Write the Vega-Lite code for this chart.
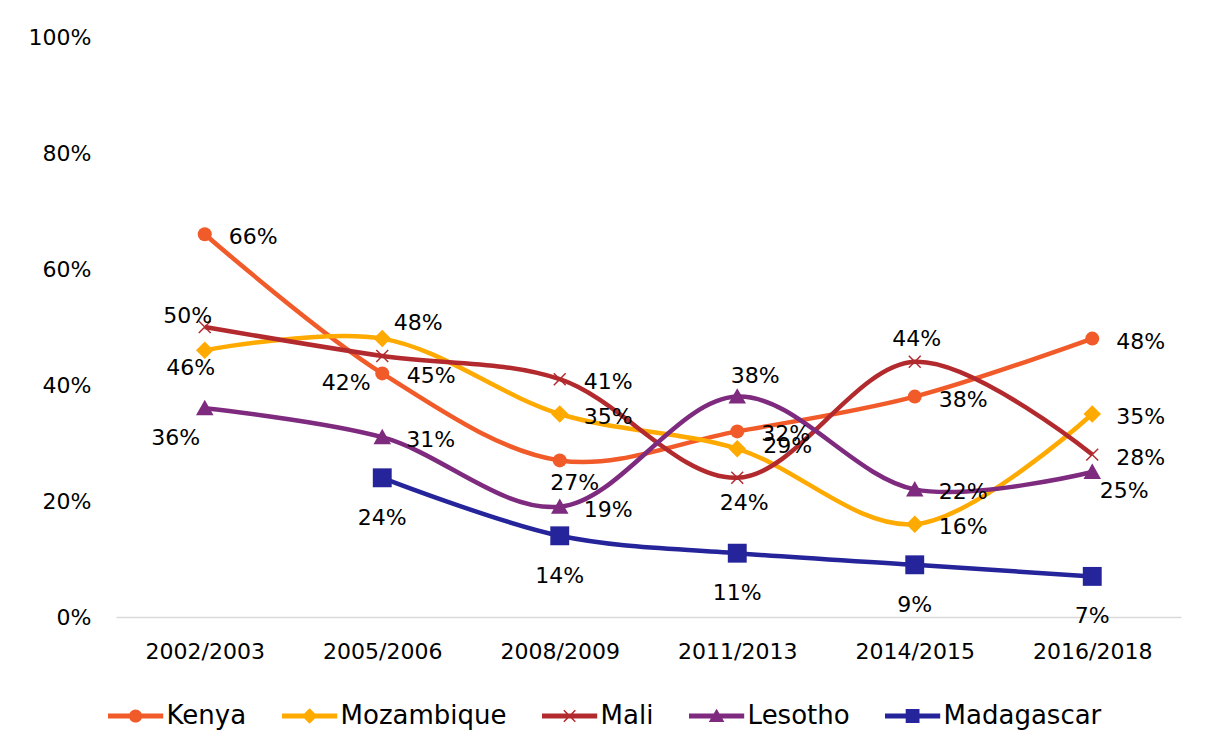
{
  "$schema": "https://vega.github.io/schema/vega-lite/v6.json",
  "width": 1065,
  "height": 580,
  "autosize": "none",
  "padding": {"left": 116, "top": 37, "right": 25, "bottom": 132},
  "background": "white",
  "config": {"view": {"stroke": null}, "font": "DejaVu Sans"},
  "data": {"values": [
    {"period": "2002/2003", "country": "Kenya", "value": 0.66},
    {"period": "2005/2006", "country": "Kenya", "value": 0.42},
    {"period": "2008/2009", "country": "Kenya", "value": 0.27},
    {"period": "2011/2013", "country": "Kenya", "value": 0.32},
    {"period": "2014/2015", "country": "Kenya", "value": 0.38},
    {"period": "2016/2018", "country": "Kenya", "value": 0.48},
    {"period": "2002/2003", "country": "Mozambique", "value": 0.46},
    {"period": "2005/2006", "country": "Mozambique", "value": 0.48},
    {"period": "2008/2009", "country": "Mozambique", "value": 0.35},
    {"period": "2011/2013", "country": "Mozambique", "value": 0.29},
    {"period": "2014/2015", "country": "Mozambique", "value": 0.16},
    {"period": "2016/2018", "country": "Mozambique", "value": 0.35},
    {"period": "2002/2003", "country": "Mali", "value": 0.50},
    {"period": "2005/2006", "country": "Mali", "value": 0.45},
    {"period": "2008/2009", "country": "Mali", "value": 0.41},
    {"period": "2011/2013", "country": "Mali", "value": 0.24},
    {"period": "2014/2015", "country": "Mali", "value": 0.44},
    {"period": "2016/2018", "country": "Mali", "value": 0.28},
    {"period": "2002/2003", "country": "Lesotho", "value": 0.36},
    {"period": "2005/2006", "country": "Lesotho", "value": 0.31},
    {"period": "2008/2009", "country": "Lesotho", "value": 0.19},
    {"period": "2011/2013", "country": "Lesotho", "value": 0.38},
    {"period": "2014/2015", "country": "Lesotho", "value": 0.22},
    {"period": "2016/2018", "country": "Lesotho", "value": 0.25},
    {"period": "2005/2006", "country": "Madagascar", "value": 0.24},
    {"period": "2008/2009", "country": "Madagascar", "value": 0.14},
    {"period": "2011/2013", "country": "Madagascar", "value": 0.11},
    {"period": "2014/2015", "country": "Madagascar", "value": 0.09},
    {"period": "2016/2018", "country": "Madagascar", "value": 0.07}
  ]},
  "encoding": {
    "x": {"field": "period", "type": "ordinal",
      "sort": ["2002/2003", "2005/2006", "2008/2009", "2011/2013", "2014/2015", "2016/2018"],
      "scale": {"type": "point", "padding": 0.5},
      "axis": {"title": null, "labelAngle": 0, "ticks": false, "domainColor": "#D9D9D9", "domainWidth": 1.5,
        "labelFontSize": 22, "labelColor": "#000000", "labelPadding": 24, "labelFont": "DejaVu Sans"}},
    "y": {"field": "value", "type": "quantitative", "scale": {"domain": [0, 1]},
      "axis": {"title": null, "format": ".0%", "values": [0, 0.2, 0.4, 0.6, 0.8, 1], "grid": false, "domain": false,
        "ticks": false, "labelFontSize": 22, "labelPadding": 25, "labelColor": "#000000", "labelFont": "DejaVu Sans"}}
  },
  "layer": [
    {
      "mark": {"type": "point", "filled": true, "size": 144, "opacity": 0},
      "encoding": {
        "color": {"field": "country", "type": "nominal",
          "scale": {"domain": ["Kenya", "Mozambique", "Mali", "Lesotho", "Madagascar"],
                    "range": ["#F15A29", "#FFAA00", "#B22A2E", "#7E2A7E", "#25249A"]},
          "legend": {
            "orient": "none", "legendX": -15, "legendY": 666, "direction": "horizontal", "title": null,
            "labelFont": "DejaVu Sans", "labelFontSize": 26, "labelColor": "#000000", "labelLimit": 400,
            "symbolSize": 144, "symbolOffset": 21.6, "labelOffset": 18, "columnPadding": 28,
            "symbolOpacity": 1, "symbolStrokeWidth": 0}},
        "shape": {"field": "country", "type": "nominal",
          "scale": {"domain": ["Kenya", "Mozambique", "Mali", "Lesotho", "Madagascar"],
            "range": [
              "M-4.6,-0.4H4.6V0.4H-4.6ZM-1.1,0A1.1,1.1 0 1,1 1.1,0A1.1,1.1 0 1,1 -1.1,0Z",
              "M-4.6,-0.4H4.6V0.4H-4.6ZM0,-1.3L1.3,0L0,1.3L-1.3,0Z",
              "M-4.6,-0.4H4.6V0.4H-4.6ZM-0.86,-1.04L1.04,0.86L0.86,1.04L-1.04,-0.86ZM-0.86,1.04L-1.04,0.86L0.86,-1.04L1.04,-0.86Z",
              "M-4.6,-0.4H4.6V0.4H-4.6ZM0,-1.2L1.3,1L-1.3,1Z",
              "M-4.6,-0.4H4.6V0.4H-4.6ZM-1.15,-1.15H1.15V1.15H-1.15Z"]},
          "legend": {
            "orient": "none", "legendX": -15, "legendY": 666, "direction": "horizontal", "title": null,
            "labelFont": "DejaVu Sans", "labelFontSize": 26, "labelColor": "#000000", "labelLimit": 400,
            "symbolSize": 144, "symbolOffset": 21.6, "labelOffset": 18, "columnPadding": 28,
            "symbolOpacity": 1, "symbolStrokeWidth": 0}}
      }
    },
    {
      "mark": {"type": "line", "interpolate": "catmull-rom", "strokeWidth": 4.5},
      "encoding": {"color": {"field": "country", "type": "nominal"}}
    },
    {
      "transform": [{"filter": "datum.country === 'Kenya'"}],
      "mark": {"type": "point", "filled": true, "size": 196, "opacity": 1, "shape": "circle"},
      "encoding": {"color": {"field": "country", "type": "nominal"}}
    },
    {
      "transform": [{"filter": "datum.country === 'Mozambique'"}],
      "mark": {"type": "point", "filled": true, "size": 196, "opacity": 1, "shape": "M0,-1.25L1.25,0L0,1.25L-1.25,0Z"},
      "encoding": {"color": {"field": "country", "type": "nominal"}}
    },
    {
      "transform": [{"filter": "datum.country === 'Mali'"}],
      "mark": {"type": "point", "filled": true, "size": 196, "opacity": 1, "shape": "M-0.775,-0.925L0.925,0.775L0.775,0.925L-0.925,-0.775ZM-0.775,0.925L-0.925,0.775L0.775,-0.925L0.925,-0.775Z"},
      "encoding": {"color": {"field": "country", "type": "nominal"}}
    },
    {
      "transform": [{"filter": "datum.country === 'Lesotho'"}],
      "mark": {"type": "point", "filled": true, "size": 196, "opacity": 1, "shape": "M0,-1.2L1.25,1L-1.25,1Z"},
      "encoding": {"color": {"field": "country", "type": "nominal"}}
    },
    {
      "transform": [{"filter": "datum.country === 'Madagascar'"}],
      "mark": {"type": "point", "filled": true, "size": 196, "opacity": 1, "shape": "M-1.35,-1.35H1.35V1.35H-1.35Z"},
      "encoding": {"color": {"field": "country", "type": "nominal"}}
    },
    {
      "transform": [{"filter": "indexof(['Kenya|2002/2003','Kenya|2011/2013','Kenya|2014/2015','Kenya|2016/2018','Mozambique|2008/2009','Mozambique|2014/2015','Mozambique|2016/2018','Mali|2008/2009','Mali|2016/2018','Lesotho|2005/2006','Lesotho|2008/2009','Lesotho|2014/2015'], datum.country + '|' + datum.period) >= 0"}],
      "mark": {"type": "text", "align": "left", "baseline": "middle", "dx": 24, "dy": 3, "fontSize": 22, "color": "#000000"},
      "encoding": {"text": {"field": "value", "type": "quantitative", "format": ".0%"}}
    },
    {
      "transform": [{"filter": "datum.country === 'Mozambique' && datum.period === '2011/2013'"}],
      "mark": {"type": "text", "align": "left", "baseline": "middle", "dx": 26, "dy": -3, "fontSize": 22, "color": "#000000"},
      "encoding": {"text": {"field": "value", "type": "quantitative", "format": ".0%"}}
    },
    {
      "transform": [{"filter": "datum.country === 'Madagascar'"}],
      "mark": {"type": "text", "align": "center", "baseline": "middle", "dx": 0, "dy": 40, "fontSize": 22, "color": "#000000"},
      "encoding": {"text": {"field": "value", "type": "quantitative", "format": ".0%"}}
    },
    {
      "transform": [{"filter": "datum.country === 'Kenya' && datum.period === '2005/2006'"}],
      "mark": {"type": "text", "align": "center", "baseline": "middle", "dx": -36, "dy": 10, "fontSize": 22, "color": "#000000"},
      "encoding": {"text": {"field": "value", "type": "quantitative", "format": ".0%"}}
    },
    {
      "transform": [{"filter": "datum.country === 'Kenya' && datum.period === '2008/2009'"}],
      "mark": {"type": "text", "align": "center", "baseline": "middle", "dx": 15, "dy": 23, "fontSize": 22, "color": "#000000"},
      "encoding": {"text": {"field": "value", "type": "quantitative", "format": ".0%"}}
    },
    {
      "transform": [{"filter": "datum.country === 'Mozambique' && datum.period === '2002/2003'"}],
      "mark": {"type": "text", "align": "center", "baseline": "middle", "dx": -14, "dy": 18, "fontSize": 22, "color": "#000000"},
      "encoding": {"text": {"field": "value", "type": "quantitative", "format": ".0%"}}
    },
    {
      "transform": [{"filter": "datum.country === 'Mozambique' && datum.period === '2005/2006'"}],
      "mark": {"type": "text", "align": "center", "baseline": "middle", "dx": 36, "dy": -16, "fontSize": 22, "color": "#000000"},
      "encoding": {"text": {"field": "value", "type": "quantitative", "format": ".0%"}}
    },
    {
      "transform": [{"filter": "datum.country === 'Mali' && datum.period === '2002/2003'"}],
      "mark": {"type": "text", "align": "center", "baseline": "middle", "dx": -17, "dy": -11, "fontSize": 22, "color": "#000000"},
      "encoding": {"text": {"field": "value", "type": "quantitative", "format": ".0%"}}
    },
    {
      "transform": [{"filter": "datum.country === 'Mali' && datum.period === '2005/2006'"}],
      "mark": {"type": "text", "align": "center", "baseline": "middle", "dx": 49, "dy": 20, "fontSize": 22, "color": "#000000"},
      "encoding": {"text": {"field": "value", "type": "quantitative", "format": ".0%"}}
    },
    {
      "transform": [{"filter": "datum.country === 'Mali' && datum.period === '2011/2013'"}],
      "mark": {"type": "text", "align": "center", "baseline": "middle", "dx": 7, "dy": 25, "fontSize": 22, "color": "#000000"},
      "encoding": {"text": {"field": "value", "type": "quantitative", "format": ".0%"}}
    },
    {
      "transform": [{"filter": "datum.country === 'Mali' && datum.period === '2014/2015'"}],
      "mark": {"type": "text", "align": "center", "baseline": "middle", "dx": 2, "dy": -23, "fontSize": 22, "color": "#000000"},
      "encoding": {"text": {"field": "value", "type": "quantitative", "format": ".0%"}}
    },
    {
      "transform": [{"filter": "datum.country === 'Lesotho' && datum.period === '2002/2003'"}],
      "mark": {"type": "text", "align": "center", "baseline": "middle", "dx": -29, "dy": 30, "fontSize": 22, "color": "#000000"},
      "encoding": {"text": {"field": "value", "type": "quantitative", "format": ".0%"}}
    },
    {
      "transform": [{"filter": "datum.country === 'Lesotho' && datum.period === '2011/2013'"}],
      "mark": {"type": "text", "align": "center", "baseline": "middle", "dx": 18, "dy": -21, "fontSize": 22, "color": "#000000"},
      "encoding": {"text": {"field": "value", "type": "quantitative", "format": ".0%"}}
    },
    {
      "transform": [{"filter": "datum.country === 'Lesotho' && datum.period === '2016/2018'"}],
      "mark": {"type": "text", "align": "center", "baseline": "middle", "dx": 32, "dy": 19, "fontSize": 22, "color": "#000000"},
      "encoding": {"text": {"field": "value", "type": "quantitative", "format": ".0%"}}
    }
  ]
}
